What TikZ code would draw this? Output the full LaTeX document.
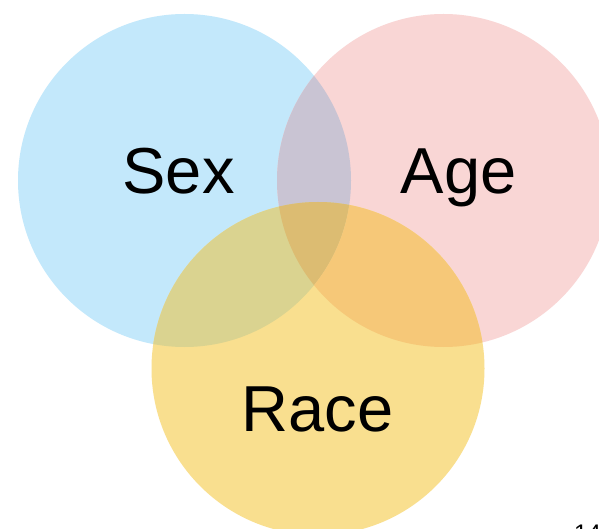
\documentclass[tikz,border=0pt]{standalone}
\usepackage{fontspec}
\setmainfont{Liberation Sans}
\definecolor{cblue}{HTML}{C3E8FB}
\definecolor{cpink}{HTML}{F9D6D5}
\definecolor{cyel}{HTML}{F9DF8F}
\definecolor{cbp}{HTML}{C9C4D3}
\definecolor{cby}{HTML}{DAD390}
\definecolor{cpy}{HTML}{F6C878}
\definecolor{call}{HTML}{DCBC72}
\begin{document}
\begin{tikzpicture}[x=1pt,y=-1pt,
  lbl/.style={font=\fontsize{65}{70}\selectfont, anchor=base, inner sep=0pt}]
\useasboundingbox (0,0) rectangle (599,529);
\clip (0,0) rectangle (599,529);
\fill[white] (0,0) rectangle (599,529);
\def\R{166.5}
\coordinate (cs) at (184.5,180.5);
\coordinate (ca) at (443.5,180.5);
\coordinate (cr) at (318,368.5);
\fill[cblue] (cs) circle[radius=\R];
\fill[cpink] (ca) circle[radius=\R];
\fill[cyel] (cr) circle[radius=\R];
\begin{scope}
  \clip (cs) circle[radius=\R];
  \fill[cbp] (ca) circle[radius=\R];
  \fill[cby] (cr) circle[radius=\R];
  \clip (ca) circle[radius=\R];
  \fill[call] (cr) circle[radius=\R];
\end{scope}
\begin{scope}[even odd rule]
  \clip (cs) circle[radius=\R] (-10,-10) rectangle (620,560);
  \clip (ca) circle[radius=\R];
  \fill[cpy] (cr) circle[radius=\R];
\end{scope}
\node[lbl] (sex) at (178.6,194) {Sex};
\node[lbl] (age) at (458.5,194) {Age};
\node[lbl] (race) at (317.5,431) {Race};
\node[font=\fontsize{24}{28}\selectfont, anchor=base west, inner sep=0pt] (pg) at (574,541) {14};
\end{tikzpicture}
\end{document}
